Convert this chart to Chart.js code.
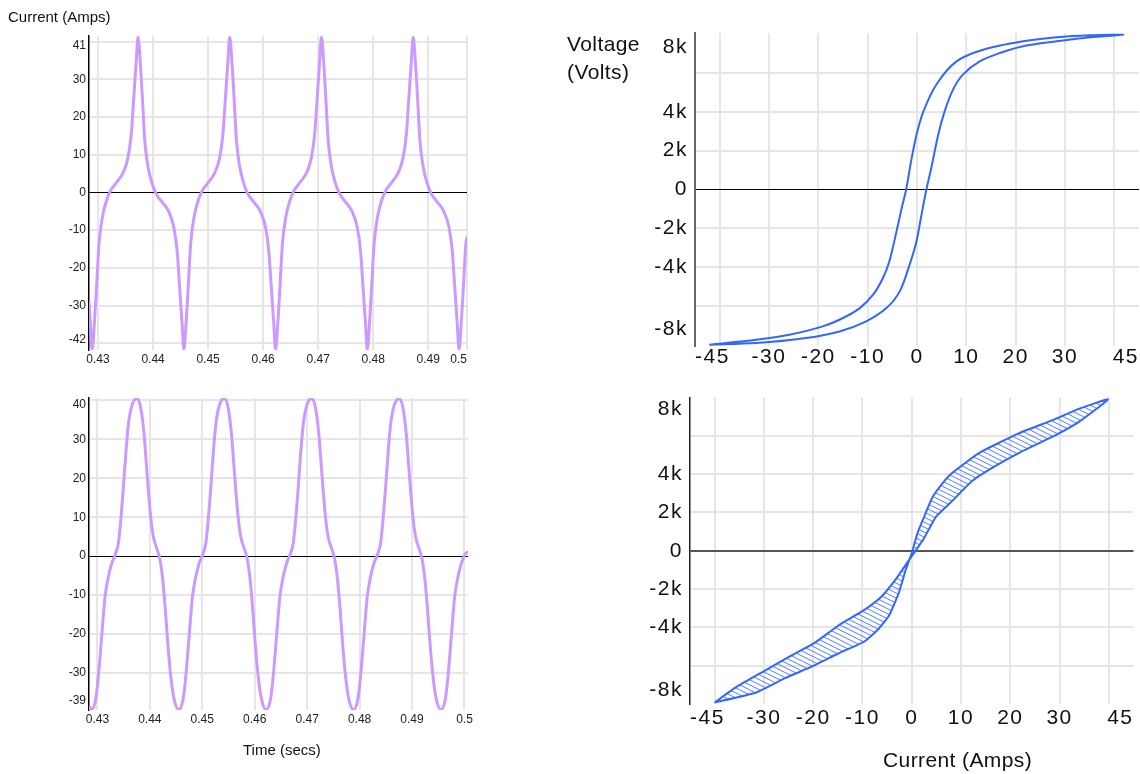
<!DOCTYPE html>
<html>
<head>
<meta charset="utf-8">
<title>Coil current and voltage</title>
<script src="https://cdn.jsdelivr.net/npm/chart.js@4.4.1/dist/chart.umd.min.js"></script>
<style>
  html, body { margin: 0; padding: 0; background: #fff; }
  #page { position: relative; width: 1140px; height: 774px; overflow: hidden; font-family: "Liberation Sans", Arial, sans-serif; color: #111; }
  #page canvas { position: absolute; }
  .ttl { position: absolute; white-space: nowrap; z-index: 2; }
</style>
</head>
<body>
<div id="page">
  <canvas id="c-tl" width="480" height="380" style="left:0;top:0"></canvas>
  <canvas id="c-bl" width="480" height="394" style="left:0;top:380px"></canvas>
  <canvas id="c-tr" width="600" height="380" style="left:540px;top:0"></canvas>
  <canvas id="c-br" width="600" height="394" style="left:540px;top:380px"></canvas>

  <div class="ttl" style="left:8px;top:9px;font-size:15px;line-height:15px">Current (Amps)</div>
  <div class="ttl" style="left:243px;top:742px;font-size:15px;line-height:15px">Time (secs)</div>
  <div class="ttl" style="left:567px;top:30px;font-size:21px;line-height:28px;letter-spacing:0.4px">Voltage<br>(Volts)</div>
  <div class="ttl" style="left:883px;top:748px;font-size:21px;line-height:24px;letter-spacing:0.4px">Current (Amps)</div>
</div>

<script>
// ---- top left: current vs time ----
const tlTime = [
  0.42836, 0.42860, 0.42894,
  0.42936, 0.42979, 0.43016, 0.43076, 0.43149, 0.43221, 0.43330, 0.43452, 0.43543, 0.43603, 0.43645, 0.43694, 0.43727,
  0.43769, 0.43812, 0.43849, 0.43909, 0.43982, 0.44054, 0.44163, 0.44285, 0.44376, 0.44436, 0.44478, 0.44527, 0.44560,
  0.44602, 0.44645, 0.44682, 0.44742, 0.44815, 0.44887, 0.44996, 0.45118, 0.45209, 0.45269, 0.45311, 0.45360, 0.45393,
  0.45435, 0.45478, 0.45515, 0.45575, 0.45648, 0.45720, 0.45829, 0.45951, 0.46042, 0.46102, 0.46144, 0.46193, 0.46227,
  0.46269, 0.46312, 0.46349, 0.46409, 0.46482, 0.46554, 0.46663, 0.46785, 0.46876, 0.46936, 0.46978, 0.47027, 0.47060,
  0.47102, 0.47145, 0.47182, 0.47242, 0.47315, 0.47387, 0.47496, 0.47618, 0.47709, 0.47769, 0.47811, 0.47860, 0.47893,
  0.47935, 0.47978, 0.48015, 0.48075, 0.48148, 0.48220, 0.48329, 0.48451, 0.48542, 0.48602, 0.48644, 0.48693, 0.48727,
  0.48769, 0.48812, 0.48849, 0.48909, 0.48982, 0.49054, 0.49163, 0.49285, 0.49376, 0.49436, 0.49478, 0.49527, 0.49560,
  0.49602, 0.49645, 0.49682, 0.49705
];
const tlCurrent = [
  -29, -34.7, -41.7,
  -34.2, -23.6, -13.9, -6.8, -2.4, 0.3, 2.5, 5.1, 9.1, 15.3, 24.1, 34.7, 41.2,
  34.2, 23.6, 13.9, 6.8, 2.4, -0.3, -2.5, -5.1, -9.1, -15.3, -24.1, -34.7, -41.7,
  -34.2, -23.6, -13.9, -6.8, -2.4, 0.3, 2.5, 5.1, 9.1, 15.3, 24.1, 34.7, 41.2,
  34.2, 23.6, 13.9, 6.8, 2.4, -0.3, -2.5, -5.1, -9.1, -15.3, -24.1, -34.7, -41.7,
  -34.2, -23.6, -13.9, -6.8, -2.4, 0.3, 2.5, 5.1, 9.1, 15.3, 24.1, 34.7, 41.2,
  34.2, 23.6, 13.9, 6.8, 2.4, -0.3, -2.5, -5.1, -9.1, -15.3, -24.1, -34.7, -41.7,
  -34.2, -23.6, -13.9, -6.8, -2.4, 0.3, 2.5, 5.1, 9.1, 15.3, 24.1, 34.7, 41.2,
  34.2, 23.6, 13.9, 6.8, 2.4, -0.3, -2.5, -5.1, -9.1, -15.3, -24.1, -34.7, -41.7,
  -34.2, -23.6, -13.9, -11.8
];
const tlXTicks  = [0.42836, 0.43, 0.44, 0.45, 0.46, 0.47, 0.48, 0.49, 0.49705];
const tlXLabels = ['', '0.43', '0.44', '0.45', '0.46', '0.47', '0.48', '0.49', '0.5'];
const tlXGrid   = [0.43, 0.44, 0.45, 0.46, 0.47, 0.48, 0.49, 0.49705];
const tlYTicks  = [-39.15, -30, -20, -10, 0, 10, 20, 30, 39];
const tlYLabels = ['-42', '-30', '-20', '-10', '0', '10', '20', '30', '41'];
const tlYGrid   = [-40, -30, -20, -10, 0, 10, 20, 30, 40];

// ---- bottom left: current vs time ----
const blTime = [
  0.42840, 0.42885,
  0.42968, 0.43019, 0.43082, 0.43146, 0.43209, 0.43273, 0.43337, 0.43400, 0.43451, 0.43496, 0.43546, 0.43591, 0.43655, 0.43750,
  0.43826, 0.43890, 0.43934, 0.43973, 0.44017, 0.44068, 0.44132, 0.44189, 0.44240, 0.44291, 0.44342, 0.44399, 0.44462, 0.44552,
  0.44635, 0.44686, 0.44749, 0.44813, 0.44876, 0.44940, 0.45004, 0.45067, 0.45118, 0.45163, 0.45213, 0.45258, 0.45322, 0.45417,
  0.45493, 0.45557, 0.45601, 0.45640, 0.45684, 0.45735, 0.45799, 0.45856, 0.45907, 0.45958, 0.46009, 0.46066, 0.46129, 0.46219,
  0.46302, 0.46353, 0.46416, 0.46480, 0.46543, 0.46607, 0.46671, 0.46734, 0.46785, 0.46830, 0.46880, 0.46925, 0.46989, 0.47083,
  0.47159, 0.47223, 0.47267, 0.47306, 0.47350, 0.47401, 0.47465, 0.47522, 0.47573, 0.47624, 0.47675, 0.47732, 0.47795, 0.47885,
  0.47968, 0.48019, 0.48082, 0.48146, 0.48209, 0.48273, 0.48337, 0.48400, 0.48451, 0.48496, 0.48546, 0.48591, 0.48655, 0.48750,
  0.48826, 0.48890, 0.48934, 0.48973, 0.49017, 0.49068, 0.49132, 0.49189, 0.49240, 0.49291, 0.49342, 0.49399, 0.49462, 0.49552,
  0.49635, 0.49686, 0.49749, 0.49813, 0.49876, 0.49940, 0.50004, 0.50067
];
const blCurrent = [
  -38.5, -39.4,
  -36.7, -30.8, -20.6, -10.4, -5.3, -1.9, 0.3, 3.3, 10.0, 17.7, 27.0, 33.8, 38.5, 40.5,
  38.1, 31.3, 23.6, 16.8, 10.0, 4.9, 2.0, -0.6, -5.3, -12.9, -22.3, -30.8, -36.7, -39.4,
  -36.7, -30.8, -20.6, -10.4, -5.3, -1.9, 0.3, 3.3, 10.0, 17.7, 27.0, 33.8, 38.5, 40.5,
  38.1, 31.3, 23.6, 16.8, 10.0, 4.9, 2.0, -0.6, -5.3, -12.9, -22.3, -30.8, -36.7, -39.4,
  -36.7, -30.8, -20.6, -10.4, -5.3, -1.9, 0.3, 3.3, 10.0, 17.7, 27.0, 33.8, 38.5, 40.5,
  38.1, 31.3, 23.6, 16.8, 10.0, 4.9, 2.0, -0.6, -5.3, -12.9, -22.3, -30.8, -36.7, -39.4,
  -36.7, -30.8, -20.6, -10.4, -5.3, -1.9, 0.3, 3.3, 10.0, 17.7, 27.0, 33.8, 38.5, 40.5,
  38.1, 31.3, 23.6, 16.8, 10.0, 4.9, 2.0, -0.6, -5.3, -12.9, -22.3, -30.8, -36.7, -39.4,
  -36.7, -30.8, -20.6, -10.4, -5.3, -1.9, 0.3, 1.2
];
const blXTicks  = [0.4284, 0.43, 0.44, 0.45, 0.46, 0.47, 0.48, 0.49, 0.5, 0.50067];
const blXLabels = ['', '0.43', '0.44', '0.45', '0.46', '0.47', '0.48', '0.49', '0.5', ''];
const blXGrid   = [0.43, 0.44, 0.45, 0.46, 0.47, 0.48, 0.49, 0.5];
const blYTicks  = [-37.1, -30, -20, -10, 0, 10, 20, 30, 38.8];
const blYLabels = ['-39', '-30', '-20', '-10', '0', '10', '20', '30', '40'];
const blYGrid   = [-30, -20, -10, 0, 10, 20, 30, 40];

// ---- top right: voltage vs current loop (rising branch, then falling branch) ----
const trUpI = [-42.1, -32.6, -25.9, -19.1, -15.0, -11.6, -8.9, -6.9, -5.6, -4.3, -3.1, -2.2, -1.2, -0.1, 1.3, 3.9, 8.0, 13.4, 21.5, 28.3, 35.1, 41.9];
const trUpV = [-7980, -7730, -7470, -7040, -6610, -6100, -5410, -4550, -3690, -2320, -950, 0, 1450, 2820, 4020, 5390, 6590, 7190, 7620, 7830, 7930, 7960];
const trDownI = [41.9, 35.1, 28.3, 21.5, 16.8, 12.7, 9.3, 7.3, 5.6, 4.3, 2.9, 1.9, 0.8, -0.1, -1.5, -3.5, -6.2, -10.3, -15.7, -22.5, -32.6, -42.1];
const trDownV = [7960, 7830, 7620, 7370, 7020, 6590, 5910, 5140, 4020, 2820, 1110, 0, -1450, -2660, -3870, -5240, -6100, -6780, -7300, -7640, -7900, -7980];

// ---- bottom right: voltage vs current loop ----
const brUpI = [-40.0, -31.7, -25.6, -20.2, -14.8, -9.7, -7.0, -4.6, -2.6, -1.2, 0, 1.15, 2.5, 4.2, 6.2, 8.3, 13.7, 21.8, 28.6, 34.0, 39.8];
const brUpV = [-7920, -7410, -6640, -6040, -5350, -4750, -4150, -3380, -2180, -980, -120, 910, 1770, 2790, 3510, 4080, 5110, 6140, 6820, 7420, 7900];
const brDownI = [39.8, 34.0, 29.3, 21.8, 16.4, 12.3, 8.3, 4.9, 2.5, 1.15, 0, -1.2, -3.25, -6.3, -9.3, -14.8, -19.9, -24.2, -30.3, -35.8, -40.0];
const brDownV = [7900, 6740, 6050, 5110, 4340, 3650, 2620, 1770, 650, 140, -290, -720, -1490, -2430, -3030, -3890, -4840, -5440, -6330, -7150, -7920];

// shared ticks for the two loop charts
const ampTicks  = [-45, -30, -20, -10, 0, 10, 20, 30, 45];
const ampLabels = ['-45', '-30', '-20', '-10', '0', '10', '20', '30', '45'];
const ampGrid   = [-40, -30, -20, -10, 0, 10, 20, 30, 40];
const trVTicks  = [-7175, -4000, -2000, 0, 2000, 4000, 7330];
const brVTicks  = [-7280, -4000, -2000, 0, 2000, 4000, 7380];
const voltLabels = ['-8k', '-4k', '-2k', '0', '2k', '4k', '8k'];
const voltGrid  = [-6000, -4000, -2000, 0, 2000, 4000, 6000];

const PURPLE = '#cc99ff';
const BLUE = '#3366ff';
const GRID = '#e6e6e6';
const SANS = '"Liberation Sans", Arial, sans-serif';
const smallFont = { family: SANS, size: 12 };
const bigFont = { family: SANS, size: 21, lineHeight: 1 };

function pts(xs, ys) {
  return xs.map((x, i) => ({ x, y: ys[i] }));
}

function loop(upI, upV, downI, downV) {
  return pts(upI, upV).concat(pts(downI, downV).slice(1));
}

// merge label ticks and grid ticks into one sorted list
function tickSet(gridVals, labelVals, labelTexts) {
  const map = new Map();
  gridVals.forEach(v => map.set(v, { grid: true, label: '' }));
  labelVals.forEach((v, i) => {
    const t = map.get(v) || { grid: false, label: '' };
    t.label = labelTexts[i];
    map.set(v, t);
  });
  return [...map.entries()].sort((a, b) => a[0] - b[0]).map(([value, t]) => ({ value, grid: t.grid, label: t.label }));
}

function axis(set, o) {
  return {
    type: 'linear',
    min: o.min,
    max: o.max,
    afterBuildTicks: s => { s.ticks = set.map(t => ({ value: t.value })); },
    afterFit: s => { if (s.isHorizontal()) s.height = o.size; else s.width = o.size; },
    grid: {
      drawTicks: false,
      color: c => {
        const t = set[c.index];
        if (!t || !t.grid) return 'transparent';
        return (o.zero && t.value === 0) ? o.zero : GRID;
      },
      lineWidth: c => {
        const t = set[c.index];
        return (o.zero && t && t.value === 0) ? o.zeroWidth : 2;
      }
    },
    border: o.border ? { display: true, color: o.border, width: o.borderWidth } : { display: false },
    ticks: {
      autoSkip: false,
      maxRotation: 0,
      padding: o.pad,
      align: o.align || 'center',
      color: o.color || '#222',
      font: o.font,
      callback: (v, i) => (set[i] ? set[i].label : '')
    }
  };
}

// wider letter spacing for the big labels on the right
const spaced = {
  id: 'spaced',
  beforeDraw(chart, args, opts) { chart.ctx.letterSpacing = opts.px || '0px'; }
};

function hatch() {
  const c = document.createElement('canvas');
  c.width = 10; c.height = 5;
  const g = c.getContext('2d');
  g.strokeStyle = 'rgba(51,102,255,0.85)';
  g.lineWidth = 1;
  for (let k = -1; k <= 1; k++) {
    g.beginPath();
    g.moveTo(-10, -5 + k * 5);
    g.lineTo(20, 10 + k * 5);
    g.stroke();
  }
  return g.createPattern(c, 'repeat');
}

function baseOptions(padding, scales, spacing) {
  return {
    responsive: false,
    animation: false,
    devicePixelRatio: 1,
    events: [],
    layout: { padding, autoPadding: false },
    plugins: { legend: { display: false }, tooltip: { enabled: false }, spaced: { px: spacing } },
    scales
  };
}

new Chart(document.getElementById('c-tl'), {
  type: 'line',
  data: { datasets: [{ data: pts(tlTime, tlCurrent), borderColor: PURPLE, borderWidth: 3, pointRadius: 0, cubicInterpolationMode: 'monotone', fill: false }] },
  options: baseOptions({ left: 0, top: 36, right: 13, bottom: 0 }, {
    x: axis(tickSet(tlXGrid, tlXTicks, tlXLabels), { min: 0.42836, max: 0.49705, size: 30, pad: 2, font: smallFont, align: 'inner' }),
    y: axis(tickSet(tlYGrid, tlYTicks, tlYLabels), { min: -41.8, max: 41.5, size: 89, pad: 3, font: smallFont, zero: '#000', zeroWidth: 1, border: '#000', borderWidth: 1.5 })
  }, '0px'),
  plugins: [spaced]
});

new Chart(document.getElementById('c-bl'), {
  type: 'line',
  data: { datasets: [{ data: pts(blTime, blCurrent), borderColor: PURPLE, borderWidth: 3, pointRadius: 0, cubicInterpolationMode: 'monotone', fill: false }] },
  options: baseOptions({ left: 0, top: 18, right: 12, bottom: 0 }, {
    x: axis(tickSet(blXGrid, blXTicks, blXLabels), { min: 0.4284, max: 0.50067, size: 64, pad: 2, font: smallFont, align: 'inner' }),
    y: axis(tickSet(blYGrid, blYTicks, blYLabels), { min: -39.5, max: 40.6, size: 89, pad: 3, font: smallFont, zero: '#000', zeroWidth: 1, border: '#000', borderWidth: 1.5 })
  }, '0px'),
  plugins: [spaced]
});

new Chart(document.getElementById('c-tr'), {
  type: 'line',
  data: { datasets: [{ data: loop(trUpI, trUpV, trDownI, trDownV), borderColor: BLUE, borderWidth: 2, pointRadius: 0, tension: 0.3, fill: false }] },
  options: baseOptions({ left: 0, top: 33, right: 1, bottom: 0 }, {
    x: axis(tickSet(ampGrid, ampTicks, ampLabels), { min: -45, max: 45, size: 34, pad: 1, font: bigFont, align: 'inner', color: '#111' }),
    y: axis(tickSet(voltGrid, trVTicks, voltLabels), { min: -8050, max: 8050, size: 155, pad: 7, font: bigFont, color: '#111', zero: '#000', zeroWidth: 1, border: '#666', borderWidth: 2 })
  }, '1.5px'),
  plugins: [spaced]
});

new Chart(document.getElementById('c-br'), {
  type: 'line',
  data: { datasets: [{ data: loop(brUpI, brUpV, brDownI, brDownV), borderColor: BLUE, borderWidth: 2, pointRadius: 0, tension: 0.15, fill: 'shape', backgroundColor: hatch() }] },
  options: baseOptions({ left: 0, top: 13, right: 6.5, bottom: 0 }, {
    x: axis(tickSet(ampGrid, ampTicks, ampLabels), { min: -45, max: 45, size: 70, pad: 4, font: bigFont, align: 'inner', color: '#111' }),
    y: axis(tickSet(voltGrid, brVTicks, voltLabels), { min: -8000, max: 8000, size: 150, pad: 7, font: bigFont, color: '#111', zero: '#555', zeroWidth: 2, border: '#222', borderWidth: 1.5 })
  }, '1.5px'),
  plugins: [spaced]
});
</script>
</body>
</html>
